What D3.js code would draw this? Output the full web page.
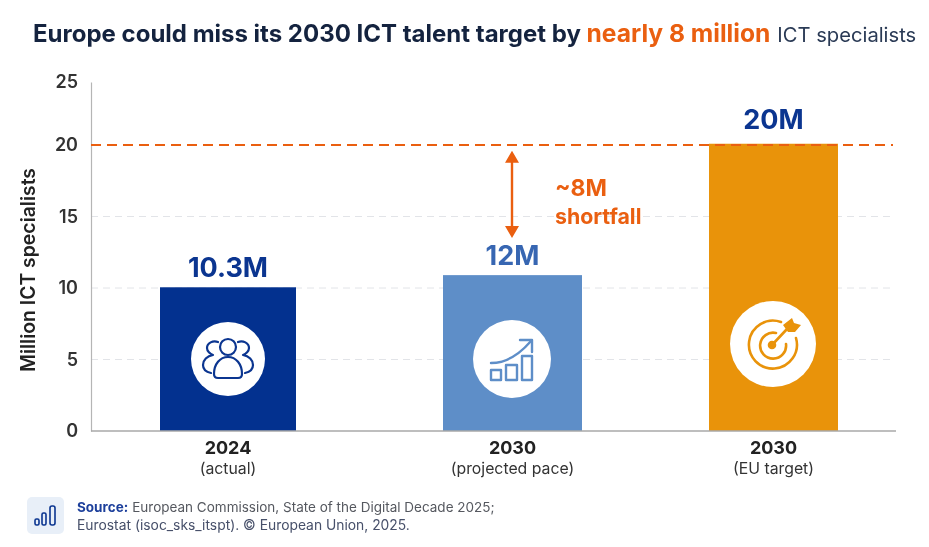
<!DOCTYPE html>
<html><head><meta charset="utf-8">
<script src="https://cdn.jsdelivr.net/npm/d3@7"></script>
<style>
html,body{margin:0;padding:0;background:#fff}
svg{display:block;filter:blur(0.35px)}
text{font-family:Inter,"Noto Sans",sans-serif}
</style></head>
<body><svg id="c" width="929" height="547"></svg>
<script>
const categories = ["2024", "2030", "2030 "];
const subLabels = ["(actual)", "(projected pace)", "(EU target)"];
const barHeights = [10.05, 10.9, 20.1];
const valueLabels = ["10.3M", "12M", "20M"];
const yTicks = [0, 5, 10, 15, 20, 25];
const gridTicks = [5, 10, 15];
const targetValue = 20;
const arrowRange = [19.6, 13.5];

const svg = d3.select("#c");
const y = d3.scaleLinear().domain([0, 20, 25]).range([431, 145, 82]);
const left = d3.scaleOrdinal().domain(categories).range([160, 443, 709]);
const right = d3.scaleOrdinal().domain(categories).range([296, 582, 838]);
const mid = c => (left(c) + right(c)) / 2;
const barColors = d3.scaleOrdinal().domain(categories).range(["#03318f", "#5e8ec8", "#e9930a"]);
const labelColors = d3.scaleOrdinal().domain(categories).range(["#0b3590", "#3766b2", "#0b3590"]);
const orange = "#ea5f10";

// title
const title = svg.append("text").attr("x", 33).attr("y", 42).attr("font-size", 24).attr("font-weight", 700).attr("fill", "#14233f");
title.append("tspan").text("Europe could miss its 2030 ICT talent target by ");
title.append("tspan").attr("fill", orange).attr("font-size", 24.6).text("nearly 8 million");
title.append("tspan").attr("font-weight", 400).attr("font-size", 20.2).attr("fill", "#2a3a55").attr("dx", 7).text("ICT specialists");

// grid
svg.append("g").selectAll("line").data(gridTicks).join("line")
  .attr("x1", 91).attr("x2", 895).attr("y1", d => y(d)).attr("y2", d => y(d))
  .attr("stroke", "#e2e4e8").attr("stroke-width", 1).attr("stroke-dasharray", "7 5");

// y axis
const ax = svg.append("g").attr("transform", "translate(91,0)")
  .call(d3.axisLeft(y).tickValues(yTicks).tickSize(0).tickPadding(13).tickFormat(d3.format("d")));
ax.select(".domain").attr("stroke", "#b5b5b5").attr("stroke-width", 1.2);
ax.selectAll("text").attr("font-size", 18).attr("font-weight", 600).attr("fill", "#333")
  .style("font-family", 'Inter,"Noto Sans",sans-serif');

svg.append("text").attr("transform", "translate(35,270) rotate(-90)").attr("text-anchor", "middle")
  .attr("font-size", 19.4).attr("font-weight", 600).attr("fill", "#222").text("Million ICT specialists");

// bars
svg.append("g").selectAll("rect").data(categories).join("rect")
  .attr("x", c => left(c)).attr("width", c => right(c) - left(c))
  .attr("y", (c, i) => y(barHeights[i])).attr("height", (c, i) => y(0) - y(barHeights[i]))
  .attr("fill", c => barColors(c));

// baseline
svg.append("line").attr("x1", 91).attr("x2", 896).attr("y1", y(0)).attr("y2", y(0))
  .attr("stroke", "#a8a8a8").attr("stroke-width", 1.5);

// target line
svg.append("line").attr("x1", 91).attr("x2", 893).attr("y1", y(targetValue)).attr("y2", y(targetValue))
  .attr("stroke", orange).attr("stroke-width", 2).attr("stroke-dasharray", "10 6");

// value labels
svg.append("g").selectAll("text").data(categories).join("text")
  .attr("x", c => mid(c)).attr("y", (c, i) => y(barHeights[i]) - (i === 2 ? 15 : 10))
  .attr("text-anchor", "middle").attr("font-weight", 700)
  .attr("font-size", 27).attr("fill", c => labelColors(c))
  .text((c, i) => valueLabels[i]);

// x labels
svg.append("g").selectAll("text").data(categories).join("text")
  .attr("x", c => mid(c)).attr("y", 454).attr("text-anchor", "middle")
  .attr("font-size", 18).attr("font-weight", 700).attr("fill", "#222").text(c => c.trim());
svg.append("g").selectAll("text").data(subLabels).join("text")
  .attr("x", (d, i) => mid(categories[i])).attr("y", 474).attr("text-anchor", "middle")
  .attr("font-size", 15.8).attr("fill", "#333").text(d => d);

// shortfall arrow
const ax0 = 512, a1 = y(arrowRange[0]), a2 = y(arrowRange[1]);
svg.append("line").attr("x1", ax0).attr("x2", ax0).attr("y1", a1 + 8).attr("y2", a2 - 8)
  .attr("stroke", orange).attr("stroke-width", 2.4);
svg.append("path").attr("fill", orange)
  .attr("d", `M${ax0},${a1}l7,12h-14zM${ax0},${a2}l7,-12h-14z`);
svg.append("text").attr("x", 555).attr("y", 196).attr("font-size", 23).attr("font-weight", 700).attr("fill", orange).text("~8M");
svg.append("text").attr("x", 555).attr("y", 224).attr("font-size", 21.3).attr("font-weight", 700).attr("fill", orange).text("shortfall");

// icon badges
const badge = (cx, cy, r) => svg.append("circle").attr("cx", cx).attr("cy", cy).attr("r", r).attr("fill", "#fff");
badge(228, 359, 37); badge(512, 359, 39); badge(773, 344, 43);

// people icon
const people = svg.append("g").attr("fill", "none").attr("stroke", "#0b3590").attr("stroke-width", 2.2)
  .attr("stroke-linecap", "round").attr("stroke-linejoin", "round");
people.append("circle").attr("cx", 228).attr("cy", 347).attr("r", 8);
people.append("path").attr("d", "M214,374c0,-10 6,-17 14,-17s14,7 14,17c0,3 -2,4 -4,4h-20c-2,0 -4,-1 -4,-4z");
people.append("path").attr("d", "M218,342c-5,-2 -11,1 -11,6c0,3 3,6 6,7c-6,1 -10,5 -10,10c0,4 3,7 8,8");
people.append("path").attr("d", "M238,342c5,-2 11,1 11,6c0,3 -3,6 -6,7c6,1 10,5 10,10c0,4 -3,7 -8,8");

// growth icon
const growth = svg.append("g").attr("fill", "none").attr("stroke", "#5e8ec8").attr("stroke-width", 2.4)
  .attr("stroke-linejoin", "round").attr("stroke-linecap", "round");
growth.append("rect").attr("x", 491).attr("y", 370).attr("width", 10).attr("height", 10);
growth.append("rect").attr("x", 506).attr("y", 365).attr("width", 11).attr("height", 15);
growth.append("rect").attr("x", 522).attr("y", 356).attr("width", 10).attr("height", 24);
growth.append("path").attr("d", "M491,363c16,0 28,-8 40,-22");
growth.append("path").attr("d", "M520,340h12v12");

// target icon
const tgt = svg.append("g").attr("fill", "none").attr("stroke", "#e9930a").attr("stroke-width", 2.6).attr("stroke-linecap", "round");
tgt.append("path").attr("d", "M781,322a24,24 0 1,0 15,16");
tgt.append("path").attr("d", "M776,333a13,13 0 1,0 10,11");
tgt.append("circle").attr("cx", 772).attr("cy", 345).attr("r", 3).attr("fill", "#e9930a");
tgt.append("path").attr("d", "M772,345L787,329");
svg.append("path").attr("fill", "#e9930a").attr("d", "M783,325l9,-7l2,5l7,2l-6,7l-7,0z");

// footer
svg.append("rect").attr("x", 27).attr("y", 497).attr("width", 37).attr("height", 37).attr("rx", 5).attr("fill", "#e8eff8");
const fi = svg.append("g").attr("fill", "none").attr("stroke", "#0b3590").attr("stroke-width", 1.6);
fi.append("rect").attr("x", 35).attr("y", 519).attr("width", 4).attr("height", 6).attr("rx", 1.5);
fi.append("rect").attr("x", 42).attr("y", 513).attr("width", 4).attr("height", 12).attr("rx", 1.5);
fi.append("rect").attr("x", 50).attr("y", 506).attr("width", 5).attr("height", 19).attr("rx", 2);
const f1 = svg.append("text").attr("x", 77).attr("y", 512).attr("font-size", 13.5).attr("fill", "#55585f");
f1.append("tspan").attr("font-weight", 700).attr("fill", "#1c3f9b").text("Source:");
f1.append("tspan").attr("dx", 4).text("European Commission, State of the Digital Decade 2025;");
svg.append("text").attr("x", 77).attr("y", 530).attr("font-size", 13.85).attr("fill", "#47506a")
  .text("Eurostat (isoc_sks_itspt). © European Union, 2025.");
</script></body></html>
